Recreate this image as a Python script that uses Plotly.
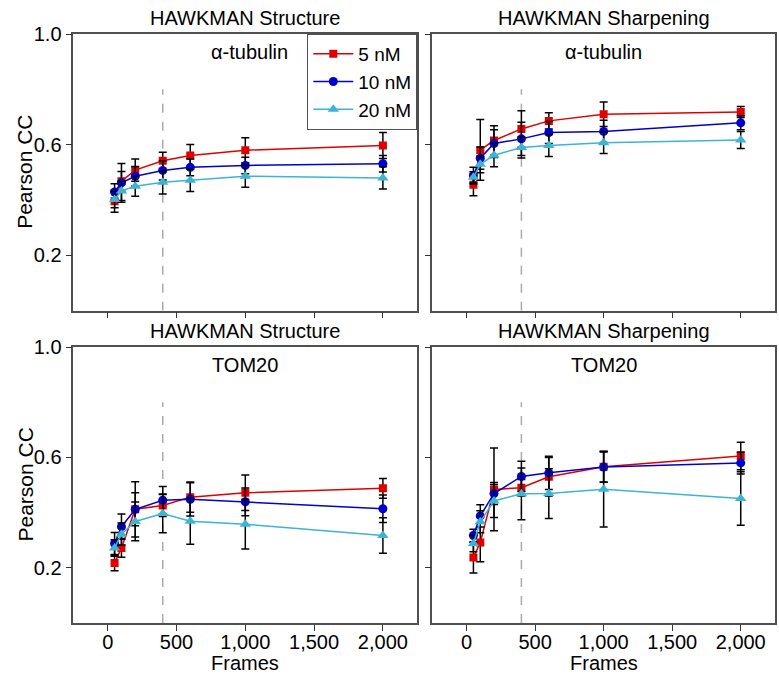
import plotly.graph_objects as go
from plotly.subplots import make_subplots

frames = [50, 100, 200, 400, 600, 1000, 2000]
series_names = ["5 nM", "10 nM", "20 nM"]
panel_titles = ["HAWKMAN Structure", "HAWKMAN Sharpening", "HAWKMAN Structure", "HAWKMAN Sharpening"]
panel_labels = ["α-tubulin", "α-tubulin", "TOM20", "TOM20"]
x_title = "Frames"
y_title = "Pearson CC"
cutoff_frames = 400

# Structure, alpha-tubulin
st_tub_5 = [0.396, 0.468, 0.508, 0.542, 0.561, 0.580, 0.597]
st_tub_5_err = [0.04, 0.035, 0.04, 0.031, 0.04, 0.045, 0.047]
st_tub_10 = [0.429, 0.462, 0.486, 0.507, 0.518, 0.525, 0.531]
st_tub_10_err = [0.03, 0.07, 0.035, 0.035, 0.03, 0.03, 0.03]
st_tub_20 = [0.402, 0.433, 0.450, 0.464, 0.471, 0.486, 0.480]
st_tub_20_err = [0.03, 0.035, 0.036, 0.042, 0.04, 0.04, 0.04]

# Sharpening, alpha-tubulin
sh_tub_5 = [0.455, 0.581, 0.615, 0.657, 0.686, 0.710, 0.718]
sh_tub_5_err = [0.04, 0.11, 0.053, 0.066, 0.029, 0.044, 0.02]
sh_tub_10 = [0.488, 0.551, 0.604, 0.621, 0.644, 0.648, 0.679]
sh_tub_10_err = [0.03, 0.04, 0.05, 0.06, 0.04, 0.04, 0.025]
sh_tub_20 = [0.482, 0.529, 0.562, 0.590, 0.597, 0.607, 0.617]
sh_tub_20_err = [0.02, 0.03, 0.042, 0.038, 0.04, 0.039, 0.031]

# Structure, TOM20
st_tom_5 = [0.217, 0.272, 0.412, 0.426, 0.456, 0.472, 0.488]
st_tom_5_err = [0.028, 0.034, 0.1, 0.04, 0.055, 0.064, 0.036]
st_tom_10 = [0.288, 0.349, 0.412, 0.445, 0.448, 0.439, 0.414]
st_tom_10_err = [0.04, 0.046, 0.06, 0.05, 0.06, 0.05, 0.05]
st_tom_20 = [0.272, 0.322, 0.368, 0.397, 0.369, 0.358, 0.317]
st_tom_20_err = [0.03, 0.04, 0.07, 0.07, 0.084, 0.09, 0.064]

# Sharpening, TOM20
sh_tom_5 = [0.237, 0.292, 0.484, 0.490, 0.530, 0.566, 0.605]
sh_tom_5_err = [0.056, 0.07, 0.15, 0.03, 0.07, 0.055, 0.05]
sh_tom_10 = [0.317, 0.388, 0.469, 0.531, 0.544, 0.565, 0.580]
sh_tom_10_err = [0.023, 0.04, 0.04, 0.055, 0.06, 0.055, 0.04]
sh_tom_20 = [0.288, 0.367, 0.442, 0.468, 0.469, 0.485, 0.451]
sh_tom_20_err = [0.03, 0.04, 0.06, 0.094, 0.09, 0.137, 0.097]

panels = [
    [(st_tub_5, st_tub_5_err), (st_tub_10, st_tub_10_err), (st_tub_20, st_tub_20_err)],
    [(sh_tub_5, sh_tub_5_err), (sh_tub_10, sh_tub_10_err), (sh_tub_20, sh_tub_20_err)],
    [(st_tom_5, st_tom_5_err), (st_tom_10, st_tom_10_err), (st_tom_20, st_tom_20_err)],
    [(sh_tom_5, sh_tom_5_err), (sh_tom_10, sh_tom_10_err), (sh_tom_20, sh_tom_20_err)],
]

colors = ["#e00000", "#0000d0", "#3cb4d2"]
symbols = ["square", "circle", "triangle-up"]
msizes = [8, 9, 10]

FONT = "Liberation Sans, Arial, sans-serif"
AXC = "#505050"

W, H = 779, 674
ML, MR, MT, MB = 73, 4, 34, 51
PW, PH = W - ML - MR, H - MT - MB


def px_x(px):
    return (px - ML) / PW


def px_y(py):
    return (H - MB - py) / PH


fig = make_subplots(rows=2, cols=2)

positions = [(1, 1), (1, 2), (2, 1), (2, 2)]
for p, (r, c) in enumerate(positions):
    for s in range(3):
        vals, errs = panels[p][s]
        fig.add_trace(go.Scatter(
            x=frames, y=vals, mode="lines+markers", name=series_names[s],
            showlegend=(p == 0),
            line=dict(color=colors[s], width=1.5),
            marker=dict(color=colors[s], symbol=symbols[s], size=msizes[s]),
            error_y=dict(type="data", array=errs, visible=True, color="black",
                         thickness=1.5, width=4),
        ), row=r, col=c)

xdom = [[px_x(73.3), px_x(417.3)], [px_x(432.3), px_x(775.5)]]
ydom = [[px_y(310.7), px_y(34)], [px_y(623), px_y(347)]]
xdom = [[max(0, a), min(1, b)] for a, b in xdom]
ydom = [[max(0, a), min(1, b)] for a, b in ydom]

axis_common = dict(showline=True, linecolor=AXC, linewidth=1.5, mirror=True,
                   ticks="outside", ticklen=6, tickwidth=1.2, tickcolor="#333",
                   showgrid=False, zeroline=False, automargin=False,
                   tickfont=dict(family=FONT, size=20, color="black"))

for p, (r, c) in enumerate(positions):
    idx = "" if p == 0 else str(p + 1)
    fig.layout["xaxis" + idx].update(
        domain=xdom[c - 1], range=[-250, 2250], tickvals=[0, 500, 1000, 1500, 2000],
        tickformat=",d", showticklabels=(r == 2), ticklabelstandoff=-6,
        **axis_common)
    fig.layout["yaxis" + idx].update(
        domain=ydom[r - 1], range=[0, 1.0], tickvals=[0.2, 0.6, 1.0], tickformat=".1f",
        showticklabels=(c == 1),
        **axis_common)
    fig.add_shape(type="line", xref="x" + idx, yref="y" + idx,
                  x0=cutoff_frames, x1=cutoff_frames, y0=0, y1=0.8,
                  line=dict(color="#aaaaaa", width=1.5, dash="dash"), layer="below")
    xc = (xdom[c - 1][0] + xdom[c - 1][1]) / 2
    yc = (ydom[r - 1][0] + ydom[r - 1][1]) / 2
    fig.add_annotation(text=panel_titles[p], xref="paper", yref="paper",
                       x=xc, y=ydom[r - 1][1], xanchor="center", yanchor="bottom", yshift=3,
                       showarrow=False, font=dict(family=FONT, size=20, color="black"))
    if p == 0:
        fig.add_annotation(text=panel_labels[p], xref="paper", yref="y" + idx,
                           x=px_x(290), y=0.935, xanchor="right", yanchor="middle",
                           showarrow=False, font=dict(family=FONT, size=20, color="black"))
    else:
        fig.add_annotation(text=panel_labels[p], xref="paper", yref="y" + idx,
                           x=xc, y=0.935, xanchor="center", yanchor="middle",
                           showarrow=False, font=dict(family=FONT, size=20, color="black"))
    if r == 2:
        fig.add_annotation(text=x_title, xref="paper", yref="paper",
                           x=xc, y=px_y(663), xanchor="center", yanchor="middle",
                           showarrow=False, font=dict(family=FONT, size=20, color="black"))
    if c == 1:
        fig.add_annotation(text=y_title, xref="paper", yref="paper",
                           x=px_x(24.5), y=yc, xanchor="center", yanchor="middle",
                           textangle=-90,
                           showarrow=False, font=dict(family=FONT, size=21, color="black"))

fig.update_layout(
    width=W, height=H, margin=dict(l=ML, r=MR, t=MT, b=MB, autoexpand=False),
    paper_bgcolor="white", plot_bgcolor="white",
    font=dict(family=FONT, size=20, color="black"),
    legend=dict(x=xdom[0][1], y=ydom[0][1], xanchor="right", yanchor="top",
                bgcolor="white", bordercolor=AXC, borderwidth=1,
                font=dict(family=FONT, size=19, color="black"),
                tracegroupgap=0, itemwidth=40),
)

fig.write_html("out.html")
